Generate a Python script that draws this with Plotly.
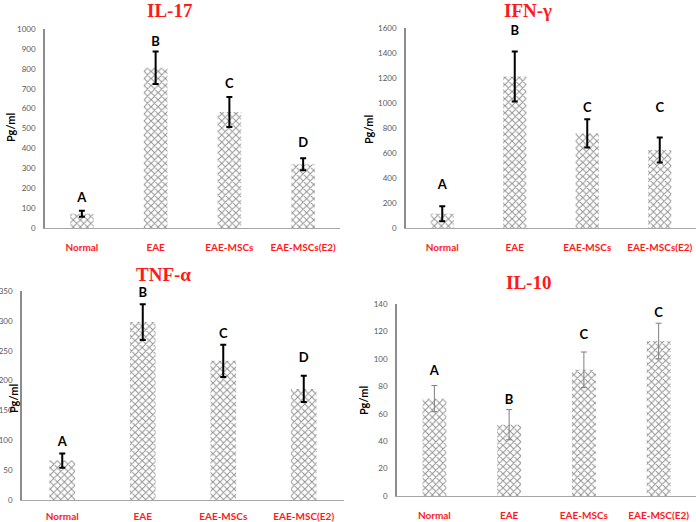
import plotly.graph_objects as go

W, H = 696, 522

# ---------------- data ----------------
cats_a = ["Normal", "EAE", "EAE-MSCs", "EAE-MSCs(E2)"]
cats_b = ["Normal", "EAE", "EAE-MSCs", "EAE-MSC(E2)"]

il17_mean = [72, 805, 583, 320]
il17_err = [15, 82, 75, 30]
il17_letters = ["A", "B", "C", "D"]
il17_letter_y = [147, 930, 720, 424]

ifng_mean = [115, 1212, 757, 625]
ifng_err = [60, 200, 113, 100]
ifng_letters = ["A", "B", "C", "C"]
ifng_letter_y = [338, 1573, 957, 957]

tnfa_mean = [66, 298, 233, 186]
tnfa_err = [12, 30, 27, 22]
tnfa_letters = ["A", "B", "C", "D"]
tnfa_letter_y = [96, 346, 276, 237]

il10_mean = [71, 52, 92, 113]
il10_err = [9.5, 11, 13, 13]
il10_letters = ["A", "B", "C", "C"]
il10_letter_y = [90.5, 69.6, 117, 133]

il17_ticks = list(range(0, 1001, 100))
ifng_ticks = list(range(0, 1601, 200))
tnfa_ticks = list(range(0, 351, 50))
il10_ticks = list(range(0, 141, 20))


def px_x(x):
    return x / W


def px_y(y):
    return (H - y) / H


panels = [
    dict(cats=cats_a, mean=il17_mean, err=il17_err, letters=il17_letters, ly=il17_letter_y,
         ticks=il17_ticks, ymax=1000, x0=45, x1=340, yb=228, yt=29,
         title="IL-17", tx=170, ty=10, ytx=11, yty=128, ecol="black", ew=2, xstand=10),
    dict(cats=cats_a, mean=ifng_mean, err=ifng_err, letters=ifng_letters, ly=ifng_letter_y,
         ticks=ifng_ticks, ymax=1600, x0=406, x1=696, yb=228, yt=28,
         title="IFN-γ", tx=528, ty=10, ytx=368, yty=130, ecol="black", ew=2, xstand=10),
    dict(cats=cats_b, mean=tnfa_mean, err=tnfa_err, letters=tnfa_letters, ly=tnfa_letter_y,
         ticks=tnfa_ticks, ymax=350, x0=22, x1=344, yb=500, yt=291,
         title="TNF-α", tx=163, ty=274, ytx=13, yty=399, ecol="black", ew=2, xstand=7),
    dict(cats=cats_b, mean=il10_mean, err=il10_err, letters=il10_letters, ly=il10_letter_y,
         ticks=il10_ticks, ymax=140, x0=397, x1=696, yb=496, yt=304,
         title="IL-10", tx=528, ty=282, ytx=363, yty=401, ecol="#7f7f7f", ew=1, xstand=10),
]

fig = go.Figure()
annotations = []
layout_axes = {}

for i, p in enumerate(panels, start=1):
    xa = "x" if i == 1 else f"x{i}"
    ya = "y" if i == 1 else f"y{i}"
    fig.add_trace(go.Bar(
        x=p["cats"], y=p["mean"], xaxis=xa, yaxis=ya, width=0.32,
        marker=dict(color="white", line=dict(width=0),
                    pattern=dict(shape="x", fgcolor="#2a2a2a", bgcolor="white",
                                 size=5, solidity=0.38)),
        error_y=dict(type="data", array=p["err"], visible=True,
                     color=p["ecol"], thickness=p["ew"], width=3),
        showlegend=False,
    ))
    fig.add_trace(go.Scatter(
        x=p["cats"], y=p["ly"], xaxis=xa, yaxis=ya, mode="text",
        text=p["letters"], textposition="middle center", cliponaxis=False,
        textfont=dict(family="Lato", size=13, color="black", weight="bold"),
        showlegend=False, hoverinfo="skip",
    ))
    xkey = "xaxis" if i == 1 else f"xaxis{i}"
    ykey = "yaxis" if i == 1 else f"yaxis{i}"
    layout_axes[xkey] = dict(
        domain=[px_x(p["x0"]), px_x(p["x1"])], anchor=ya, automargin=False,
        type="category", range=[-0.5, 3.5],
        showline=True, linecolor="#a6a6a6", linewidth=1,
        showgrid=False, zeroline=False,
        ticks="outside", ticklen=p["xstand"], tickcolor="rgba(0,0,0,0)",
        tickfont=dict(family="Lato", size=10, color="#ff1a1a", weight="bold"),
        fixedrange=True,
    )
    layout_axes[ykey] = dict(
        domain=[px_y(p["yb"]), px_y(p["yt"])], anchor=xa, automargin=False,
        range=[0, p["ymax"]], tickvals=p["ticks"],
        showline=True, linecolor="#8c8c8c", linewidth=1.5,
        showgrid=False, zeroline=False,
        ticks="outside", ticklen=6, tickcolor="rgba(0,0,0,0)",
        tickfont=dict(family="Lato", size=8, color="#595959"),
        fixedrange=True,
    )
    annotations.append(dict(
        text=f"<b>{p['title']}</b>", x=px_x(p["tx"]), y=px_y(p["ty"]),
        xref="paper", yref="paper", xanchor="center", yanchor="middle",
        showarrow=False,
        font=dict(family="Liberation Serif", size=19, color="#ff1a1a"),
    ))
    annotations.append(dict(
        text="<b>Pg/ml</b>", x=px_x(p["ytx"]), y=px_y(p["yty"]),
        xref="paper", yref="paper", xanchor="center", yanchor="middle",
        textangle=-90, showarrow=False,
        font=dict(family="Lato", size=11, color="black"),
    ))

fig.update_layout(
    width=W, height=H,
    margin=dict(l=0, r=0, t=0, b=0),
    paper_bgcolor="white", plot_bgcolor="white",
    annotations=annotations,
    **layout_axes,
)

fig.write_html(
    "out.html",
    config={"displayModeBar": False},
    post_script="document.body.style.margin='0px';document.body.style.overflow='hidden';",
)
